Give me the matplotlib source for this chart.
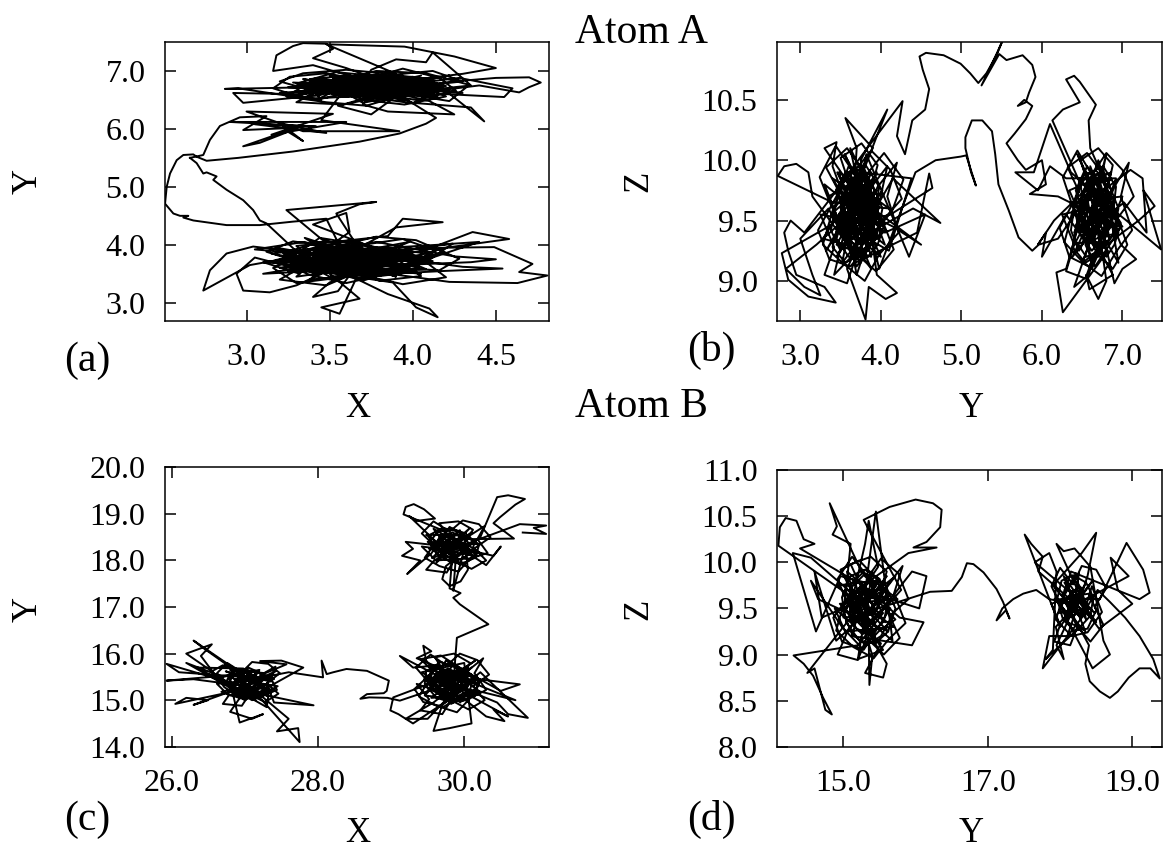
import matplotlib
matplotlib.use("Agg")
import matplotlib.pyplot as plt
from matplotlib.ticker import FormatStrFormatter

# ---- panel (a): atom A, X vs Y ----
a_start = [(2.66,5.50),(2.74,5.55),(2.78,5.81),(2.84,6.05),(2.96,6.20),(3.12,6.22),(2.98,5.98),(3.30,6.02),
           (2.98,5.70),(3.08,5.76),(3.25,5.95),(3.34,5.79),(3.20,6.10),(3.48,5.93),(3.05,6.08),(3.42,6.04),
           (2.90,6.12),(3.60,6.12),(3.15,5.90),(3.52,6.26),(3.00,6.30),(3.34,5.96),(3.92,5.96),(3.45,6.15)]
a_upper_core = [(3.60,6.72),(3.82,6.78),(3.70,6.66),(3.95,6.70),(4.12,6.82),(3.90,6.88),(3.66,6.80),(3.48,6.74),
                (3.62,6.62),(3.85,6.58),(4.05,6.64),(3.88,6.76),(3.58,6.84),(3.40,6.78),(3.55,6.68),(3.78,6.70),
                (4.00,6.80),(4.18,6.72),(3.96,6.60),(3.74,6.54),(3.52,6.60),(3.35,6.70),(3.50,6.82),(3.72,6.90),
                (3.94,6.84),(4.08,6.74),(3.86,6.66),(3.64,6.74),(3.44,6.66),(3.60,6.56),(3.82,6.64),(4.02,6.72),
                (3.80,6.82),(3.56,6.76),(3.38,6.86),(3.62,6.92),(3.88,6.80),(4.10,6.66),(3.92,6.56),(3.70,6.62),
                (3.48,6.70),(3.66,6.84),(3.90,6.74),(4.15,6.78),(4.00,6.90),(3.76,6.86),(3.54,6.80),(3.70,6.70),
                (3.94,6.64),(3.72,6.58),(3.50,6.64),(3.30,6.74),(3.46,6.86),(3.68,6.78),(3.86,6.70),(4.06,6.60),
                (3.84,6.52),(3.62,6.66),(3.80,6.76),(3.98,6.86),(3.78,6.94),(3.58,6.88),(3.42,6.72),(3.64,6.64),
                (3.88,6.62),(4.08,6.70),(3.90,6.80),(3.68,6.72),(3.46,6.78),(3.66,6.86),(3.84,6.78),(4.04,6.84),
                (4.20,6.74),(3.98,6.68),(3.76,6.62),(3.56,6.70),(3.74,6.80),(3.96,6.76),(3.80,6.66),(3.60,6.80),
                (3.40,6.64),(3.58,6.70),(3.80,6.74),(3.72,6.84),(3.92,6.92),(4.10,6.86),(3.88,6.72),(3.64,6.60),
                (3.84,6.56),(4.02,6.62),(3.82,6.70),(3.62,6.76),(3.52,6.90),(3.76,6.76),(3.98,6.70),(3.78,6.60),
                (3.54,6.66),(3.70,6.76),(3.92,6.68),(3.74,6.74)]
a_upper_ring = [(3.20,6.62),(3.45,6.50),(3.38,6.74),(3.62,6.92),(3.85,6.80),(3.70,6.50),(3.95,6.42),(4.20,6.56),
                (4.05,6.74),(4.30,6.82),(4.12,7.00),(3.90,6.94),(3.60,7.02),(3.34,6.96),(3.20,6.82),(3.42,6.64),
                (3.30,6.46),(3.58,6.42),(3.80,6.60),(4.02,6.50),(4.26,6.66),(4.16,6.88),(3.94,7.04),(3.70,6.84),
                (3.48,6.96),(3.26,6.90),(3.16,6.70),(3.36,6.52),(3.64,6.56),(3.52,6.80),(3.78,7.00),(4.08,6.96),
                (4.34,6.76),(4.22,6.48),(3.96,6.60),(3.72,6.40),(3.48,6.46),(3.24,6.56),(3.40,6.84),(3.68,6.72),
                (3.92,6.86),(4.18,6.70),(4.00,6.44),(3.76,6.54),(3.56,6.66),(3.30,6.78),(3.54,6.98),(3.82,6.90),
                (4.10,6.82)]
a_upper = [(3.55,6.70),(3.95,6.85),(3.40,6.62),(4.10,6.75),(3.62,6.90),(3.30,6.55),(2.95,6.70),(2.87,6.69),
           (3.40,6.72),(3.85,6.68),(4.25,6.82),(4.50,6.88),(4.70,6.89),(4.77,6.80),(4.70,6.72),(4.64,6.63),
           (4.40,6.75),(3.70,6.50),(3.48,6.80),(4.02,6.60),(3.58,6.95),(3.40,7.10),(3.16,7.00),(3.18,7.27),
           (3.28,7.43),(3.34,7.48),(3.48,7.47),(3.52,7.38),(3.40,7.22),(3.60,7.05),(3.92,6.72),(3.35,6.78),
           (3.80,6.58),(4.18,6.70),(4.43,6.13),(4.35,6.37),(4.00,6.45),(3.66,6.84),(3.42,6.50),(4.05,6.92),
           (3.75,6.64),(3.25,6.72),(3.88,6.80),(4.30,6.62),(3.60,6.76),(3.95,6.48),(3.52,6.88),(4.12,6.85),
           (3.72,6.56),(3.38,6.68),(3.98,6.78),(3.62,6.60),(4.22,6.92),(3.82,6.70),(3.45,6.86),(3.70,6.45),
           (4.08,6.66),(3.56,6.74),(3.90,6.95),(3.48,7.46),(3.95,7.42),(4.25,7.25),(4.50,7.05),(4.30,6.95),
           (3.32,6.62),(3.78,6.82),(4.15,6.55),(3.64,6.68),(3.50,6.92),(4.00,6.72),(3.28,6.80),(3.86,6.60),
           (4.35,6.75),(4.12,7.32),(4.08,7.15),(3.90,7.20),(3.75,7.02),(3.72,6.88),(3.44,6.58),(2.98,6.45),
           (2.92,6.62),(3.30,6.60),(3.96,6.66),(3.60,6.82),(4.10,6.48),(4.25,6.25),(3.85,6.30),(3.70,6.42),
           (3.80,6.76),(3.36,6.70),(3.68,6.94),(4.20,6.68),(3.54,6.62),(3.92,6.84),(3.74,6.52),(4.05,6.80),
           (3.48,6.72),(3.84,6.90),(3.30,6.64),(3.76,6.70),(4.28,6.88),(4.60,6.70),(4.55,6.55),(4.20,6.60),
           (3.58,6.56),(3.98,6.74),(3.66,6.86),(3.40,6.76),(4.12,6.62),(3.82,6.64),(3.52,6.80),(3.94,6.92),
           (3.70,6.60),(4.02,6.70),(3.46,6.66),(3.88,6.52),(3.75,6.25),(3.55,6.40),(4.18,6.78),(3.62,6.72),
           (3.34,6.86),(3.90,6.62),(4.14,6.19)]
a_lens = [(4.08,6.09),(3.92,5.92),(3.68,5.78),(3.28,5.61),(2.95,5.50),(2.76,5.45),(2.70,5.52),(2.68,5.56),
          (2.62,5.55),(2.58,5.46),(2.54,5.23),(2.52,5.00),(2.51,4.71),(2.56,4.54),(2.60,4.50),(2.65,4.50),
          (2.62,4.47),(2.68,4.42),(2.88,4.34),(3.08,4.34),(3.28,4.40),(3.48,4.45)]
a_lower_core = [(3.60,3.75),(3.82,3.80),(3.70,3.66),(3.48,3.72),(3.30,3.80),(3.52,3.90),(3.75,3.86),(3.98,3.78),
                (3.80,3.64),(3.58,3.58),(3.36,3.66),(3.50,3.78),(3.72,3.72),(3.94,3.66),(4.10,3.76),(3.90,3.88),
                (3.66,3.94),(3.44,3.86),(3.26,3.74),(3.46,3.62),(3.68,3.54),(3.88,3.60),(4.06,3.70),(3.84,3.76),
                (3.62,3.82),(3.40,3.76),(3.58,3.66),(3.80,3.70),(4.00,3.86),(3.78,3.96),(3.56,3.88),(3.34,3.92),
                (3.50,3.70),(3.72,3.62),(3.92,3.52),(3.70,3.48),(3.48,3.54),(3.30,3.62),(3.54,3.74),(3.76,3.78),
                (3.96,3.72),(4.14,3.82),(3.92,3.92),(3.68,3.84),(3.46,3.80),(3.64,3.70),(3.86,3.64),(3.64,3.60),
                (3.42,3.70),(3.24,3.84),(3.46,3.94),(3.70,3.90),(3.90,3.82),(3.70,3.76),(3.48,3.66),(3.66,3.56),
                (3.88,3.50),(4.04,3.62),(3.84,3.70),(3.60,3.78),(3.38,3.84),(3.56,3.96),(3.80,3.90),(3.62,3.72),
                (3.84,3.58),(4.02,3.54),(3.80,3.46),(3.58,3.50),(3.40,3.58),(3.60,3.64),(3.82,3.74),(4.06,3.80),
                (3.86,3.86),(3.64,3.92),(3.44,3.98),(3.30,3.86),(3.52,3.80),(3.74,3.68),(3.94,3.76),(3.72,3.84),
                (3.50,3.74),(3.70,3.60),(3.92,3.66),(3.74,3.72),(3.54,3.64),(3.36,3.74),(3.58,3.84),(3.78,3.74)]
a_lower_ring = [(3.10,3.70),(3.32,3.50),(3.22,3.86),(3.46,4.06),(3.70,3.94),(3.58,3.62),(3.80,3.38),(4.05,3.46),
                (3.92,3.72),(4.20,3.86),(4.02,4.08),(3.78,4.14),(3.52,3.96),(3.28,4.06),(3.12,3.88),(3.36,3.66),
                (3.20,3.40),(3.48,3.30),(3.66,3.52),(3.90,3.60),(4.16,3.56),(4.28,3.76),(4.10,3.98),(3.86,3.84),
                (3.62,4.08),(3.40,3.92),(3.16,3.60),(3.30,3.34),(3.58,3.44),(3.76,3.68),(3.98,3.92),(4.24,4.02),
                (4.08,3.70),(4.20,3.44),(3.94,3.32),(3.72,3.46),(3.50,3.58),(3.26,3.76),(3.44,4.12),(3.70,4.00),
                (3.94,4.10),(4.14,3.90),(3.88,3.52),(3.60,3.34),(3.38,3.48),(3.18,3.74),(3.42,3.86),(3.68,3.74)]
a_lower = [(3.35,4.05),(3.05,3.92),(3.62,3.78),(3.28,3.55),(3.90,3.70),(3.45,4.10),(3.24,4.60),(3.78,4.74),
           (3.68,4.70),(3.54,4.54),(3.78,3.48),(3.20,3.72),(4.05,3.88),(4.36,4.22),(4.58,4.10),(4.20,3.95),
           (4.49,3.96),(4.72,3.67),(4.64,3.53),(4.81,3.47),(4.63,3.34),(4.22,3.36),(3.55,3.62),(3.15,3.85),
           (3.70,4.02),(3.38,3.40),(3.95,3.55),(3.60,3.95),(3.02,3.65),(2.74,3.21),(2.78,3.56),(2.88,3.85),
           (3.04,3.97),(3.48,3.82),(4.12,3.72),(3.66,3.42),(3.56,2.81),(3.45,2.92),(3.68,3.07),(3.30,3.98),
           (3.85,4.15),(3.94,4.45),(4.18,4.39),(3.90,4.30),(3.52,3.70),(3.10,3.50),(3.75,3.60),(4.20,3.95),
           (3.58,3.88),(3.25,3.62),(3.88,3.35),(4.02,2.92),(4.15,2.75),(4.10,2.90),(3.85,3.15),(3.42,3.75),
           (3.98,4.05),(3.68,3.70),(3.18,3.95),(3.50,3.45),(4.08,3.58),(3.80,3.92),(3.35,3.68),(3.62,4.22),
           (3.60,4.55),(3.40,4.35),(3.92,3.78),(3.40,3.52),(3.05,3.78),(2.94,3.50),(2.98,3.21),(3.14,3.18),
           (3.30,3.30),(3.72,3.85),(4.30,3.62),(4.54,3.59),(4.20,3.55),(3.86,3.50),(3.48,3.98),(3.22,3.80),
           (3.65,3.55),(4.00,3.82),(3.55,4.08),(3.30,3.45),(3.82,3.66),(3.46,3.88),(4.15,4.00),(4.40,4.05),
           (3.70,3.38),(3.28,3.72),(3.60,3.90),(3.95,3.65),(3.52,3.58),(3.12,3.70),(3.78,4.05),(4.25,3.80),
           (4.50,3.75),(4.35,3.70),(3.65,3.62),(3.38,3.92),(3.90,3.45),(3.58,3.75),(3.25,3.55),(3.82,3.95),
           (3.45,3.66),(4.05,3.50),(3.72,3.78),(3.35,4.12),(3.68,3.52),(3.98,3.92),(3.55,3.82),(3.20,3.60),
           (3.85,3.72),(3.50,3.35),(3.40,3.10),(3.55,3.20),(3.75,3.98),(4.10,3.68),(3.62,3.85),(3.40,3.62),
           (3.12,4.37)]
a_return = [(3.08,4.42),(3.04,4.60),(2.98,4.77),(2.88,4.95),(2.80,5.12),(2.82,5.18),(2.76,5.25),(2.74,5.23),
            (2.70,5.41),(2.66,5.50)]

# ---- panel (b): atom A, Y vs Z ----
b_left_core = [(3.70,9.55),(3.80,9.75),(3.62,9.85),(3.50,9.65),(3.58,9.40),(3.75,9.30),(3.90,9.45),(3.85,9.68),
               (3.68,9.78),(3.55,9.58),(3.45,9.35),(3.60,9.20),(3.78,9.25),(3.95,9.38),(4.02,9.60),(3.88,9.82),
               (3.72,9.92),(3.58,9.75),(3.48,9.50),(3.40,9.28),(3.56,9.15),(3.72,9.22),(3.82,9.45),(3.70,9.65),
               (3.56,9.72),(3.62,9.48),(3.80,9.38),(3.92,9.55),(3.98,9.78),(3.82,9.95),(3.65,9.90),(3.52,9.80),
               (3.42,9.60),(3.52,9.38),(3.68,9.30),(3.84,9.20),(3.96,9.30),(4.05,9.48),(3.90,9.62),(3.74,9.52),
               (3.60,9.62),(3.66,9.85),(3.80,9.92),(3.92,9.75),(3.78,9.58),(3.64,9.42),(3.50,9.25),(3.38,9.42),
               (3.46,9.70),(3.60,9.95),(3.76,9.82),(3.86,9.60),(3.72,9.40),(3.58,9.30),(3.70,9.12),(3.86,9.28),
               (4.00,9.40),(3.94,9.65),(3.78,9.70),(3.62,9.58),(3.50,9.45),(3.64,9.35),(3.78,9.48),(3.90,9.70),
               (3.74,9.88),(3.56,9.90),(3.44,9.75),(3.56,9.55),(3.74,9.62),(3.88,9.40),(3.76,9.18),(3.62,9.28),
               (3.54,9.50),(3.68,9.70),(3.84,9.52),(3.70,9.35),(3.52,9.62),(3.66,9.78),(3.82,9.85),(3.96,9.58),
               (3.80,9.32),(3.66,9.50)]
b_left_ring = [(3.25,9.55),(3.42,9.28),(3.30,9.05),(3.58,8.98),(3.70,9.22),(3.94,9.08),(4.16,9.26),(4.02,9.50),
               (4.26,9.68),(4.12,9.92),(3.88,10.08),(3.66,9.90),(3.44,10.12),(3.24,9.86),(3.36,9.66),(3.52,9.42),
               (3.78,9.52),(3.96,9.78),(4.20,9.98),(4.08,9.70),(4.22,9.40),(3.98,9.22),(3.80,9.00),(3.54,9.14),
               (3.28,9.30),(3.40,9.58),(3.62,9.78),(3.50,10.02),(3.76,10.14),(3.96,9.96),(3.84,9.66),(4.06,9.42),
               (3.86,9.30),(3.62,9.12),(3.36,9.18),(3.22,9.42),(3.48,9.74),(3.32,9.94),(3.58,10.10),(3.82,9.88),
               (4.04,10.06),(4.28,9.84),(4.14,9.58),(3.92,9.40),(3.70,9.58),(3.46,9.90)]
b_left1 = [(3.70,9.55),(3.95,9.90),(3.45,9.30),(3.88,9.20),(3.60,9.85),(4.10,9.60),(3.40,9.65),(2.72,9.87),
           (2.80,9.95),(2.95,9.97),(3.10,9.90),(3.15,9.70),(3.75,9.15),(3.98,9.45),(3.55,10.05),(3.82,9.70),
           (3.35,9.45),(2.77,9.23),(2.85,9.01),(3.10,8.87),(3.44,8.82),(3.30,8.95),(2.95,9.05),(2.85,9.25),
           (2.80,9.40),(2.88,9.50),(3.05,9.40),(3.68,9.95),(4.05,9.30),(3.50,9.60),(3.90,10.10),(3.56,10.35),
           (3.70,10.10),(3.62,9.25),(3.30,9.80),(3.85,9.50),(4.15,9.85),(4.74,9.48),(4.40,9.60),(3.72,9.35),
           (3.48,9.90),(3.95,9.65),(3.58,9.10),(3.81,8.68),(3.85,8.95),(4.06,8.85),(4.20,8.90),(3.95,9.05),
           (3.80,9.80),(3.38,9.55),(4.00,9.20),(3.65,9.70),(3.42,9.05),(3.92,9.40),(3.75,10.00),(4.08,10.42),
           (3.95,10.20),(3.52,9.45),(4.12,9.55),(4.64,9.77),(4.60,9.89),(4.45,9.40),(3.68,9.15),(3.35,9.70),
           (3.88,9.90),(3.60,9.40),(4.02,9.75),(3.45,9.20),(3.78,9.60),(3.55,9.85),(4.27,10.49),(4.20,10.20),
           (4.30,10.05),(4.39,10.33)]
b_top = [(4.55,10.42),(4.60,10.59),(4.52,10.75),(4.48,10.86),(4.56,10.89),(4.78,10.87),(4.99,10.80),
         (5.11,10.72),(5.21,10.64),(5.31,10.72),(5.43,10.86),(5.51,10.99),(5.45,10.90),(5.25,10.62),
         (5.47,10.88),(5.56,10.83),(5.76,10.87),(5.88,10.79),(5.92,10.69),(5.84,10.56),(5.80,10.48),
         (5.70,10.45),(5.78,10.50),(5.88,10.45),(5.80,10.34),(5.66,10.22),(5.56,10.14),(5.70,10.00),
         (5.80,9.92),(6.00,10.00),(6.05,9.80),(5.85,9.72),(6.20,9.70)]
b_right_core = [(6.65,9.55),(6.75,9.75),(6.58,9.85),(6.46,9.65),(6.52,9.40),(6.68,9.30),(6.82,9.45),(6.78,9.68),
                (6.62,9.78),(6.50,9.58),(6.40,9.35),(6.55,9.20),(6.72,9.25),(6.88,9.38),(6.95,9.60),(6.82,9.82),
                (6.66,9.92),(6.52,9.75),(6.44,9.50),(6.38,9.28),(6.54,9.15),(6.70,9.22),(6.78,9.45),(6.66,9.65),
                (6.52,9.72),(6.58,9.48),(6.76,9.38),(6.88,9.55),(6.92,9.78),(6.76,9.95),(6.60,9.90),(6.48,9.80),
                (6.40,9.60),(6.48,9.38),(6.64,9.30),(6.80,9.20),(6.90,9.30),(6.98,9.48),(6.84,9.62),(6.70,9.52),
                (6.56,9.62),(6.62,9.85),(6.76,9.92),(6.86,9.75),(6.72,9.58),(6.60,9.42),(6.46,9.25),(6.36,9.42),
                (6.42,9.70),(6.56,9.95),(6.72,9.82),(6.82,9.60),(6.68,9.40),(6.54,9.30),(6.66,9.12),(6.82,9.28),
                (6.94,9.40),(6.88,9.65),(6.72,9.70),(6.58,9.58),(6.48,9.45),(6.60,9.35),(6.74,9.48),(6.86,9.70),
                (6.70,9.88),(6.52,9.90),(6.42,9.75),(6.52,9.55),(6.70,9.62)]
b_right_ring = [(6.25,9.55),(6.40,9.30),(6.30,9.08),(6.54,9.02),(6.66,9.24),(6.88,9.10),(7.06,9.30),(6.94,9.52),
                (7.14,9.70),(7.00,9.92),(6.80,10.06),(6.62,9.88),(6.44,10.08),(6.26,9.86),(6.36,9.66),(6.50,9.42),
                (6.74,9.52),(6.90,9.78),(7.08,9.98),(6.98,9.70),(7.12,9.42),(6.92,9.24),(6.74,9.04),(6.50,9.16),
                (6.28,9.32),(6.38,9.58),(6.58,9.78),(6.48,10.00),(6.70,10.10),(6.88,9.96),(6.78,9.66),(6.98,9.44),
                (6.80,9.32),(6.58,9.12),(6.34,9.20),(6.22,9.44),(6.46,9.74),(6.32,9.94),(6.56,10.06),(6.76,9.88)]
b_right = [(6.60,9.55),(6.85,9.85),(6.40,9.30),(6.95,9.40),(6.55,9.90),(6.75,9.20),(6.35,9.65),(7.00,9.70),
           (6.62,9.10),(6.48,9.80),(6.13,10.33),(6.26,10.42),(6.47,10.48),(6.30,10.67),(6.40,10.70),(6.47,10.65),
           (6.67,10.46),(6.58,10.33),(6.60,10.10),(6.70,9.95),(6.90,9.55),(6.70,10.00),(6.42,9.45),(6.82,9.25),
           (6.26,8.74),(6.18,9.07),(6.30,9.10),(6.58,9.75),(7.05,9.50),(7.48,9.26),(7.34,9.57),(7.26,9.75),
           (7.40,9.62),(7.20,9.50),(6.50,9.15),(6.78,9.65),(6.36,9.90),(6.10,10.30),(5.90,9.90),(5.67,9.90),
           (5.95,9.75),(6.10,9.95),(6.30,9.85),(6.92,9.85),(6.65,9.35),(6.45,9.60),(6.88,9.05),(6.59,8.93),
           (6.55,9.05),(6.70,8.85),(6.80,9.00),(6.60,9.95),(6.98,9.30),(7.17,9.18),(7.00,9.10),(6.90,8.98),
           (6.72,9.50),(6.38,9.20),(6.80,9.80),(6.55,9.40),(7.02,9.65),(7.30,9.40),(7.25,9.85),(7.10,9.92),
           (6.66,9.70),(6.44,10.05),(6.86,9.45),(6.62,9.25),(6.30,9.55),(6.00,9.20),(6.05,9.40),(5.95,9.30),
           (6.15,9.50),(6.76,9.90),(6.95,9.15),(6.52,9.65),(6.84,9.35),(6.68,9.85),(6.40,9.40),(6.90,9.70),
           (6.58,9.05),(6.40,8.95),(6.74,9.60),(6.46,9.85),(7.00,9.45),(6.62,9.50),(6.80,10.05),(6.50,9.30),
           (6.92,9.60),(6.70,9.20),(6.34,9.75),(6.86,9.90),(6.64,9.40),(6.56,9.70),(6.20,9.35),(5.96,9.30)]
b_neck = [(5.88,9.25),(5.71,9.36),(5.59,9.58),(5.46,9.80),(5.42,10.05),(5.38,10.24),(5.26,10.33),(5.13,10.33),
          (5.05,10.19),(5.05,10.10),(5.12,9.90),(5.18,9.79),(5.06,10.04),(4.99,10.03),(4.68,10.00),(4.43,9.90)]
b_left2 = [(3.98,9.10),(3.72,9.80),(3.28,9.35),(3.85,9.25),(4.08,9.95),(3.62,9.55),(3.40,9.95),(3.45,10.15),
           (3.30,10.10),(3.92,9.50),(3.70,9.05),(3.50,9.75),(4.05,9.40),(4.55,9.55),(4.35,9.20),(3.82,10.05),
           (3.58,9.30),(3.35,9.60),(3.00,9.35),(3.15,9.05),(3.25,8.88),(3.05,8.95),(2.82,9.10),(3.20,9.30),
           (3.95,9.75),(3.66,9.45),(3.88,9.10),(3.45,9.50),(4.10,9.25),(4.38,9.85),(3.74,9.90),(3.52,9.15),
           (3.80,9.40),(3.40,9.85),(3.98,9.60),(3.62,10.10),(3.86,9.35),(3.55,9.65),(4.15,9.45),(4.50,9.30),
           (3.70,9.70),(3.32,9.25),(3.90,9.85),(3.64,9.20),(3.48,9.55),(3.84,9.60),(3.60,9.90),(4.00,9.50)]

# ---- panel (c): atom B, X vs Y ----
c_left_core = [(27.00,15.30),(27.15,15.46),(27.00,15.60),(26.82,15.50),(26.78,15.28),(26.92,15.10),(27.12,15.06),
               (27.28,15.20),(27.32,15.42),(27.18,15.60),(26.98,15.66),(26.80,15.58),(26.74,15.36),(26.88,15.16),
               (27.08,15.12),(27.24,15.30),(27.10,15.48),(26.92,15.40),(27.04,15.22),(27.20,15.38),(27.06,15.55),
               (26.86,15.44),(26.96,15.24),(27.14,15.20),(27.26,15.50),(27.02,15.42)]
c_left_ring = [(26.62,15.35),(26.78,15.10),(26.70,14.92),(26.96,14.88),(27.06,15.12),(27.28,14.96),(27.46,15.14),
               (27.30,15.36),(27.48,15.58),(27.32,15.78),(27.10,15.82),(26.96,15.60),(26.76,15.80),(26.62,15.58),
               (26.74,15.40),(26.90,15.22),(27.14,15.30),(27.24,15.56),(27.42,15.72),(27.36,15.46),(27.44,15.22),
               (27.20,15.06),(26.94,15.04),(26.68,15.18)]
c_left = [(27.00,15.30),(27.25,15.55),(26.80,15.10),(27.35,15.15),(26.30,16.28),(26.45,16.10),(26.90,15.60),
          (27.15,15.00),(26.75,15.40),(25.93,15.78),(26.10,15.60),(27.40,15.45),(27.05,15.70),(26.85,15.25),
          (27.94,14.89),(27.40,14.95),(27.30,15.35),(26.95,15.05),(27.20,15.65),(26.70,15.50),(26.20,15.80),
          (27.10,15.00),(27.45,15.30),(26.88,15.45),(27.18,15.10),(27.75,14.10),(27.73,14.40),(27.44,14.33),
          (27.60,14.60),(26.80,15.65),(27.28,15.58),(27.57,15.77),(27.21,15.84),(27.50,15.85),(27.80,15.70),
          (27.00,15.00),(26.72,15.28),(26.40,15.95),(26.55,16.20),(26.20,16.00),(26.55,15.62),(26.70,15.75),
          (27.36,15.40),(26.92,15.55),(25.93,15.42),(26.30,15.45),(27.12,15.28),(27.42,15.62),(26.82,15.18),
          (26.05,14.92),(26.20,15.05),(26.50,15.00),(26.30,14.90),(27.22,15.42),(26.98,15.68),(26.35,15.70),
          (27.30,14.85),(27.32,15.08),(26.78,15.52),(26.93,14.52),(27.25,14.70),(27.10,14.60),(26.80,14.75),
          (27.08,15.38),(27.40,15.20),(26.86,15.35),(26.50,15.55),(26.65,15.50),(27.16,15.62),(26.96,15.12),
          (27.26,15.30),(26.74,15.62),(27.04,15.48),(27.34,15.52),(27.60,15.60),(28.07,15.49),(28.05,15.85)]
c_cross = [(28.12,15.56),(28.21,15.60),(28.39,15.67),(28.67,15.63),(28.87,15.49),(28.97,15.42),(28.94,15.20),
           (28.90,15.15),(28.67,15.13),(28.58,15.03),(28.70,15.06),(28.95,15.05),(29.12,14.99)]
c_low_core = [(29.80,15.35),(29.95,15.55),(29.78,15.68),(29.60,15.55),(29.55,15.30),(29.70,15.12),(29.90,15.08),
              (30.08,15.22),(30.12,15.45),(30.00,15.66),(29.82,15.78),(29.62,15.72),(29.50,15.50),(29.58,15.20),
              (29.76,15.02),(29.98,14.98),(30.15,15.12),(30.20,15.38),(30.06,15.60),(29.86,15.62),(29.70,15.45),
              (29.82,15.22),(30.00,15.30),(29.92,15.48),(29.74,15.58),(29.56,15.42),(29.66,15.25),(29.86,15.12),
              (30.04,15.40),(29.90,15.70),(29.68,15.82),(29.48,15.62),(29.46,15.35),(29.62,15.05),(29.84,14.95),
              (30.06,15.05),(30.18,15.30),(30.10,15.55),(29.88,15.50),(29.72,15.30),(29.90,15.18),(30.02,15.55),
              (29.80,15.80),(29.58,15.66),(29.52,15.40),(29.74,15.38),(29.96,15.26),(29.80,15.10)]
c_low_ring = [(29.35,15.35),(29.52,15.02),(29.40,14.78),(29.70,14.70),(29.82,15.00),(30.06,14.80),(30.28,15.00),
              (30.12,15.30),(30.34,15.55),(30.18,15.86),(29.94,16.00),(29.76,15.74),(29.54,15.98),(29.34,15.70),
              (29.46,15.48),(29.60,15.20),(29.88,15.30),(30.04,15.62),(30.26,15.90),(30.14,15.58),(30.30,15.22),
              (30.08,15.04),(29.90,14.74),(29.62,14.88),(29.38,15.08),(29.50,15.38),(29.72,15.62),(29.60,15.92),
              (29.86,16.00),(30.08,15.80),(29.96,15.48),(30.20,15.20),(29.98,15.10),(29.72,14.86),(29.44,14.96),
              (29.32,15.24),(29.58,15.62),(29.40,15.88),(29.68,15.96),(29.92,15.72)]
c_low = [(29.80,15.35),(30.10,15.70),(29.55,15.05),(30.15,15.10),(29.12,15.95),(29.30,15.70),(29.65,15.75),
         (29.95,14.95),(29.45,15.45),(30.20,15.45),(30.76,15.34),(30.50,15.20),(29.75,15.85),(29.50,15.20),
         (30.05,15.30),(29.70,14.90),(29.58,14.34),(29.80,14.40),(30.10,14.50),(30.00,15.80),(29.42,15.60),
         (29.88,15.15),(30.22,15.60),(30.87,14.62),(30.60,14.70),(30.45,14.95),(29.60,15.50),(29.92,15.05),
         (29.48,15.85),(29.44,16.17),(29.55,16.05),(29.35,15.90),(30.12,15.40),(29.78,15.00),(29.30,14.50),
         (29.10,14.70),(28.99,14.78),(29.03,15.06),(29.52,15.35),(30.18,15.20),(30.70,15.00),(29.68,15.65),
         (29.98,15.45),(29.58,14.95),(29.20,14.60),(29.50,14.60),(30.08,15.55),(29.85,15.75),(29.46,15.10),
         (30.02,15.00),(30.30,14.65),(30.55,14.55),(30.40,14.80),(30.60,14.65),(29.72,15.40),(30.15,15.85),
         (29.62,15.25),(29.90,15.60),(29.55,15.70),(30.10,15.15),(29.82,14.92),(29.50,15.50),(30.20,15.35),
         (29.75,15.55),(29.96,15.25),(29.64,15.05),(30.05,15.70),(29.44,15.30),(29.86,15.50),(29.88,15.95)]
c_link = [(29.90,16.34),(30.33,16.63),(29.94,17.06),(29.85,17.20),(29.95,17.30),(29.80,17.40)]
c_up_core = [(29.85,18.30),(30.00,18.48),(29.84,18.60),(29.66,18.50),(29.60,18.28),(29.74,18.08),(29.94,18.02),
             (30.10,18.16),(30.14,18.38),(30.02,18.58),(29.84,18.68),(29.64,18.62),(29.54,18.42),(29.62,18.16),
             (29.80,17.98),(30.02,17.95),(30.16,18.10),(30.20,18.32),(30.06,18.52),(29.88,18.54),(29.72,18.38),
             (29.86,18.18),(30.04,18.26),(29.94,18.44),(29.76,18.52),(29.58,18.36),(29.70,18.20),(29.90,18.10),
             (30.08,18.34),(29.92,18.62),(29.70,18.70),(29.52,18.54),(29.56,18.24),(29.74,18.02),(29.96,17.92),
             (30.12,18.04),(30.04,18.24),(29.84,18.40),(29.98,18.50),(29.80,18.22)]
c_up_ring = [(29.42,18.30),(29.60,18.02),(29.48,17.80),(29.76,17.74),(29.86,18.00),(30.10,17.82),(30.30,18.00),
             (30.14,18.26),(30.36,18.50),(30.20,18.78),(29.98,18.86),(29.80,18.62),(29.58,18.84),(29.42,18.58),
             (29.54,18.40),(29.70,18.16),(29.94,18.26),(30.08,18.54),(30.28,18.74),(30.18,18.46),(30.32,18.16),
             (30.08,18.04),(29.92,17.76),(29.66,17.88),(29.46,18.06),(29.58,18.32),(29.78,18.54),(29.66,18.80),
             (29.92,18.84),(30.12,18.66),(30.00,18.38),(30.24,18.14)]
c_up = [(29.85,18.30),(30.10,18.60),(29.60,18.00),(30.15,18.05),(29.70,18.65),(29.17,18.99),(29.20,19.15),
        (29.31,19.21),(29.45,19.10),(29.60,18.90),(29.35,18.85),(29.25,18.95),(29.95,17.90),(29.50,18.40),
        (30.20,18.35),(29.80,18.72),(29.55,18.15),(29.22,17.71),(29.40,18.00),(29.15,18.10),(29.30,18.25),
        (29.20,18.40),(30.05,18.25),(29.75,17.88),(29.70,17.60),(29.80,17.45),(29.95,17.55),(30.05,17.80),
        (30.00,18.55),(29.48,18.55),(29.90,18.10),(30.22,18.50),(30.45,19.36),(30.60,19.40),(30.83,19.32),
        (30.70,19.20),(30.49,18.93),(30.40,18.80),(30.68,18.47),(29.65,18.45),(29.92,18.00),(29.58,18.68),
        (30.12,18.20),(30.40,18.10),(30.50,18.30),(30.30,17.90),(29.82,18.40),(29.62,17.95),(30.08,18.70),
        (29.72,18.20),(29.98,18.45),(29.52,18.25),(30.18,18.10),(29.78,18.58),(29.88,17.95),(29.85,17.35),
        (30.02,18.35),(29.66,18.30),(29.94,18.65),(29.56,18.05),(30.14,18.42),(30.76,18.78),(31.12,18.75),
        (30.95,18.70),(31.12,18.57),(30.80,18.60)]

# ---- panel (d): atom B, Y vs Z ----
d_left_core = [(15.30,9.55),(15.45,9.75),(15.28,9.86),(15.10,9.72),(15.04,9.48),(15.18,9.28),(15.38,9.22),
               (15.56,9.36),(15.62,9.60),(15.50,9.82),(15.30,9.92),(15.10,9.85),(14.98,9.62),(15.04,9.35),
               (15.22,9.15),(15.44,9.12),(15.62,9.25),(15.72,9.50),(15.60,9.72),(15.40,9.68),(15.22,9.52),
               (15.34,9.34),(15.52,9.48),(15.42,9.64),(15.24,9.74),(15.08,9.56),(15.18,9.40),(15.36,9.44),
               (15.48,9.62),(15.34,9.80),(15.16,9.64),(15.00,9.45),(15.12,9.22),(15.32,9.10),(15.52,9.20),
               (15.66,9.40),(15.56,9.58),(15.36,9.62),(15.20,9.46),(15.30,9.30),(15.46,9.40),(15.40,9.56),
               (15.22,9.60),(15.08,9.75),(15.26,9.88),(15.46,9.84),(15.60,9.66),(15.46,9.50),(15.28,9.40),
               (15.14,9.50),(15.28,9.68),(15.46,9.28),(15.26,9.22),(15.10,9.35)]
d_left_ring = [(14.88,9.50),(15.04,9.22),(14.92,9.00),(15.20,8.94),(15.32,9.18),(15.56,9.00),(15.78,9.18),
               (15.64,9.42),(15.90,9.60),(15.76,9.88),(15.52,10.04),(15.34,9.84),(15.12,10.06),(14.92,9.82),
               (15.02,9.62),(15.18,9.36),(15.44,9.46),(15.58,9.72),(15.82,9.96),(15.70,9.66),(15.86,9.34),
               (15.62,9.16),(15.42,8.96),(15.14,9.08),(14.90,9.26),(15.00,9.54),(15.24,9.74),(15.10,9.98),
               (15.38,10.06),(15.60,9.90),(15.48,9.58),(15.72,9.38),(15.50,9.26),(15.26,9.06),(14.98,9.14),
               (14.86,9.40),(15.12,9.68),(14.96,9.92),(15.22,10.02),(15.46,9.82)]
d_left = [(15.30,9.55),(15.60,9.85),(15.05,9.25),(15.70,9.30),(14.10,10.18),(14.12,10.38),(14.20,10.48),
          (14.35,10.45),(14.45,10.25),(14.60,10.20),(14.40,10.15),(15.15,9.80),(15.45,9.15),(14.95,9.55),
          (15.75,9.60),(15.25,9.90),(14.81,10.64),(14.91,10.39),(14.85,10.30),(15.10,10.20),(15.00,9.40),
          (15.55,9.45),(15.20,9.10),(14.31,8.99),(14.45,8.90),(14.58,8.77),(14.72,8.53),(14.84,8.35),
          (14.75,8.40),(14.65,8.70),(14.60,8.85),(14.50,8.80),(14.75,9.05),(15.50,9.80),(14.92,9.75),
          (15.40,9.35),(15.80,9.70),(15.28,10.46),(15.64,10.60),(16.00,10.68),(16.24,10.64),(16.36,10.57),
          (16.34,10.38),(16.15,10.22),(15.97,10.16),(16.29,10.16),(15.90,10.10),(15.10,9.65),(15.35,9.20),
          (15.36,8.67),(15.40,8.99),(15.05,9.90),(15.65,9.50),(15.28,9.05),(14.98,9.30),(14.55,9.80),
          (14.65,9.60),(15.62,9.25),(15.18,9.60),(15.48,9.95),(15.35,10.45),(15.30,10.20),(15.08,9.45),
          (15.72,9.85),(15.38,9.50),(14.90,9.15),(14.60,9.90),(14.70,9.40),(15.58,9.70),(15.22,9.35),
          (15.52,9.12),(15.30,8.80),(15.55,8.75),(15.60,8.90),(15.02,9.70),(15.42,9.65),(15.78,9.40),
          (16.11,9.35),(15.95,9.10),(15.12,9.20),(15.32,9.80),(15.45,10.55),(15.68,9.15),(15.15,9.50),
          (15.45,9.75),(14.96,9.85),(14.62,9.25),(14.30,10.10),(14.55,10.05),(15.58,9.35),(15.25,9.70),
          (15.85,9.55),(16.05,9.50),(16.15,9.85),(15.95,9.90),(15.35,9.30),(15.05,9.60),(15.55,9.05),
          (15.20,8.95),(15.40,9.90),(15.10,9.35),(15.65,9.65),(15.28,9.45),(16.20,9.68)]
d_cross = [(16.50,9.69),(16.64,9.84),(16.71,9.99),(16.80,9.98),(16.94,9.89),(17.12,9.71),(17.21,9.57),
           (17.30,9.39),(17.25,9.48),(17.12,9.37),(17.20,9.50),(17.35,9.60),(17.49,9.66),(17.67,9.70),
           (17.85,9.60)]
d_right_core = [(18.20,9.55),(18.32,9.70),(18.20,9.80),(18.06,9.70),(18.02,9.50),(18.12,9.34),(18.28,9.30),
                (18.42,9.42),(18.46,9.62),(18.36,9.78),(18.18,9.86),(18.02,9.80),(17.96,9.60),(18.04,9.38),
                (18.20,9.26),(18.38,9.28),(18.50,9.48),(18.40,9.66),(18.24,9.64),(18.14,9.48),(18.28,9.42),
                (18.34,9.58),(18.18,9.70),(18.08,9.56),(18.22,9.46),(18.38,9.52),(18.26,9.74),(18.10,9.62)]
d_right_ring = [(17.88,9.55),(18.00,9.32),(17.92,9.14),(18.14,9.10),(18.24,9.30),(18.42,9.14),(18.60,9.32),
                (18.48,9.52),(18.64,9.72),(18.50,9.92),(18.30,9.96),(18.18,9.76),(18.00,9.94),(17.88,9.74),
                (17.98,9.58),(18.12,9.40),(18.34,9.48),(18.44,9.74),(18.58,9.46),(18.38,9.24),(18.16,9.20),
                (17.94,9.38),(18.08,9.70),(18.26,9.88)]
d_right = [(18.20,9.55),(18.45,9.80),(18.00,9.30),(17.51,10.30),(17.60,10.20),(17.76,10.06),(17.70,9.90),
           (18.50,9.35),(18.05,9.85),(18.35,9.25),(17.92,9.60),(18.55,9.60),(18.92,10.21),(19.15,9.92),
           (19.24,9.67),(19.10,9.60),(18.15,9.90),(17.98,9.45),(18.40,9.50),(17.76,8.85),(17.85,9.20),
           (18.10,9.20),(18.38,9.85),(18.50,10.32),(18.30,10.10),(17.90,9.75),(18.28,9.40),(18.52,9.70),
           (18.69,9.57),(18.90,9.40),(19.10,9.20),(19.29,8.95),(19.38,8.74),(19.25,8.85),(19.10,8.85),
           (18.95,8.75),(18.80,8.60),(18.69,8.53),(18.55,8.60),(18.41,8.71),(18.35,8.90),(18.40,9.10),
           (18.02,9.65),(18.25,9.28),(17.80,8.95),(17.90,9.05),(17.95,9.90),(17.85,10.10),(17.65,10.00),
           (18.48,9.45),(18.18,9.70),(18.08,9.40),(18.45,8.85),(18.69,9.00),(18.60,9.15),(18.42,9.95),
           (18.20,10.15),(18.05,10.12),(17.95,10.20),(18.30,9.60),(17.94,9.30),(18.05,8.95),(17.95,9.10),
           (18.34,9.75),(18.12,9.50),(18.95,9.85),(18.70,10.05),(18.80,9.70),(19.00,9.55),(18.54,9.28),
           (18.06,9.78),(18.36,9.38),(18.22,9.88),(18.00,9.55),(18.46,9.62)]

a_xticks = [3.0, 3.5, 4.0, 4.5]
a_yticks = [3.0, 4.0, 5.0, 6.0, 7.0]
b_xticks = [3.0, 4.0, 5.0, 6.0, 7.0]
b_yticks = [9.0, 9.5, 10.0, 10.5]
c_xticks = [26.0, 28.0, 30.0]
c_yticks = [14.0, 15.0, 16.0, 17.0, 18.0, 19.0, 20.0]
d_xticks = [15.0, 17.0, 19.0]
d_yticks = [8.0, 8.5, 9.0, 9.5, 10.0, 10.5, 11.0]

plt.rcParams['font.family'] = ['Liberation Serif', 'DejaVu Serif']
W, H = 1168, 848
fig = plt.figure(figsize=(W / 100, H / 100), dpi=100)


def panel(rect, segments, xlim, ylim, xticks, yticks):
    ax = fig.add_axes(rect)
    pts = [p for seg in segments for p in seg]
    ax.plot([p[0] for p in pts], [p[1] for p in pts], color='black', lw=1.4)
    ax.set_xlim(xlim)
    ax.set_ylim(ylim)
    ax.set_xticks(xticks)
    ax.set_yticks(yticks)
    ax.xaxis.set_major_formatter(FormatStrFormatter('%.1f'))
    ax.yaxis.set_major_formatter(FormatStrFormatter('%.1f'))
    ax.tick_params(direction='in', top=True, right=True, length=8, width=1.1, labelsize=23)
    ax.tick_params(axis='x', pad=16)
    ax.tick_params(axis='y', pad=14)
    for s in ax.spines.values():
        s.set_linewidth(1.1)
    return ax


panel([0.1413, 0.6218, 0.3288, 0.3287],
      [a_start, a_upper_core, a_upper_ring, a_upper, a_lens, a_lower_core, a_lower_ring, a_lower, a_return],
      (2.51, 4.82), (2.69, 7.50), a_xticks, a_yticks)
panel([0.6652, 0.6218, 0.3296, 0.3287],
      [b_left_core, b_left_ring, b_left1, b_top, b_right_core, b_right_ring, b_right, b_neck, b_left2],
      (2.71, 7.49), (8.67, 10.98), b_xticks, b_yticks)
panel([0.1413, 0.1194, 0.3288, 0.3295],
      [c_left_core, c_left_ring, c_left, c_cross, c_low_core, c_low_ring, c_low, c_link,
       c_up_core, c_up_ring, c_up],
      (25.91, 31.16), (14.0, 20.0), c_xticks, c_yticks)
panel([0.6652, 0.1194, 0.3296, 0.3263],
      [d_left_core, d_left_ring, d_left, d_cross, d_right_core, d_right_ring, d_right],
      (14.08, 19.41), (8.0, 11.0), d_xticks, d_yticks)


def label(x, y, s, size=25, rot=0, va='center'):
    fig.text(x / W, 1 - y / H, s, fontsize=size, rotation=rot, ha='center', va=va)


label(641, 43, "Atom A", size=30, va='baseline')
label(641, 417, "Atom B", size=30, va='baseline')
label(358, 417, "X", va='baseline')
label(971, 417, "Y", va='baseline')
label(358, 842, "X", va='baseline')
label(971, 842, "Y", va='baseline')
label(28, 181, "Y", rot=90)
label(639, 181, "Z", rot=90)
label(28, 609, "Y", rot=90)
label(639, 609, "Z", rot=90)
label(87, 361, "(a)", size=30)
label(711, 350, "(b)", size=30)
label(87, 820, "(c)", size=30)
label(711, 819, "(d)", size=30)

fig.savefig("out.png", dpi=100)
